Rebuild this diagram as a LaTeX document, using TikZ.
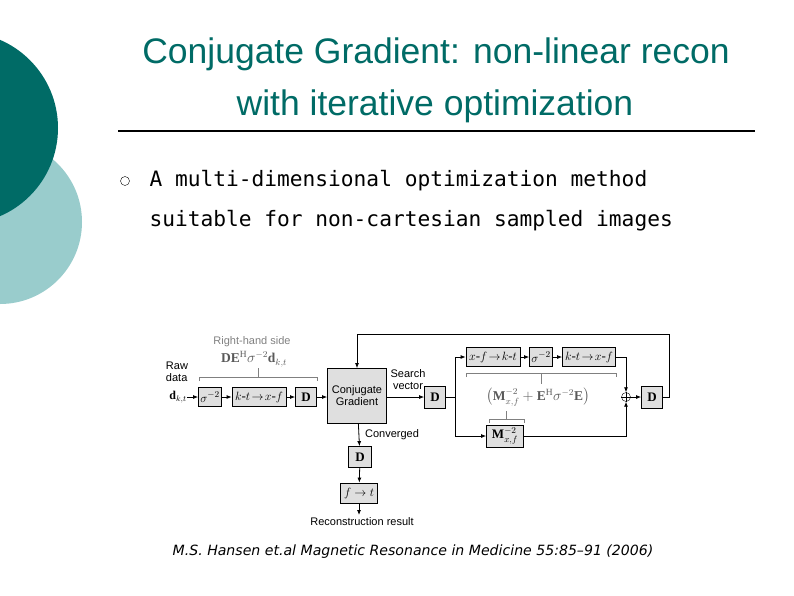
\documentclass[tikz,border=0pt]{standalone}
\usepackage{fontspec}
\setmainfont{Liberation Serif}
\setsansfont{Liberation Sans}
\setmonofont{DejaVu Sans Mono}
\newfontfamily\citef{DejaVu Sans}
\usepackage{amsmath}
\usetikzlibrary{arrows.meta}
\definecolor{teal1}{HTML}{006B66}
\definecolor{teal2}{HTML}{99CCCC}
\begin{document}
\begin{tikzpicture}[x=1pt,y=-1pt,
  blk/.style={draw,thick,fill=gray!25,inner sep=1pt,minimum height=19pt,font=\fontsize{13}{13}\selectfont},
  lab/.style={font=\sffamily\fontsize{11}{12}\selectfont,inner sep=0pt},
  ar/.style={-{Latex[length=5pt,width=4pt]},thick},
  ln/.style={thick},
  brk/.style={gray,thin}]
\useasboundingbox (0,0) rectangle (794,595);
\fill[teal2] (0,222) circle (82);
\fill[teal1] (-38,128) circle (96);
\node[font=\sffamily\fontsize{35.5}{36}\selectfont,text=teal1] (t1) at (436,54) {Conjugate Gradient: non-linear recon};
\node[font=\sffamily\fontsize{35.5}{36}\selectfont,text=teal1] (t2) at (435,106) {with iterative optimization};
\draw[line width=1.2pt] (118,131) -- (755,131);
\node[draw,circle,inner sep=0pt,minimum size=9pt,thin] (bul) at (125,181) {};
\node[font=\ttfamily\fontsize{21.2}{22}\selectfont,anchor=west] (b1) at (146,181) {A multi-dimensional optimization method};
\node[font=\ttfamily\fontsize{21.2}{22}\selectfont,anchor=west] (b2) at (146,221) {suitable for non-cartesian sampled images};
% diagram
\node[lab,align=left] (raw) at (177,372) {Raw\\data};
\node[inner sep=0pt,font=\fontsize{12}{12}\selectfont] (d) at (178,397) {$\mathbf{d}_{k,t}$};
\node[blk,minimum width=23pt] (s1) at (210,397) {$\sigma^{-2}$};
\node[blk,minimum width=54pt] (kt1) at (259,397) {$k\text{-}t\!\to\! x\text{-}f$};
\node[blk,minimum width=21pt] (D1) at (306,397) {$\mathbf{D}$};
\node[blk,minimum width=59pt,minimum height=55pt,lab,align=center] (cg) at (357,396) {Conjugate\\Gradient};
\node[lab,align=center] (sv) at (408,380) {Search\\vector};
\node[blk,minimum width=21pt,minimum height=22pt] (D2) at (435,397) {$\mathbf{D}$};
\node[blk,minimum width=54pt] (xf) at (493,357) {$x\text{-}f\!\to\! k\text{-}t$};
\node[blk,minimum width=23pt] (s2) at (541,357) {$\sigma^{-2}$};
\node[blk,minimum width=53pt] (kt2) at (589,357) {$k\text{-}t\!\to\! x\text{-}f$};
\node[blk,minimum width=37pt,minimum height=22pt] (M) at (505,436) {$\mathbf{M}_{x,f}^{-2}$};
\node[draw,circle,inner sep=0pt,minimum size=9pt] (plus) at (626,397) {};
\draw (plus.north)--(plus.south) (plus.west)--(plus.east);
\node[blk,minimum width=21pt,minimum height=22pt] (D3) at (652,397) {$\mathbf{D}$};
\node[text=gray!70!black,font=\fontsize{13.5}{13}\selectfont] (expr) at (538,397) {$\left(\mathbf{M}_{x,f}^{-2}+\mathbf{E}^{\mathrm{H}}\sigma^{-2}\mathbf{E}\right)$};
\node[lab] (conv) at (392,435) {Converged};
\node[blk,minimum width=23pt,minimum height=21pt] (D4) at (360,457) {$\mathbf{D}$};
\node[blk,minimum width=37pt,minimum height=20pt] (ft) at (359,493) {$f\to t$};
\coordinate (rr) at (359,515);
\node[lab] (rec) at (362,522) {Reconstruction result};
\node[lab,text=gray] (rhs) at (252,342) {Right-hand side};
\node[text=gray!70!black,font=\fontsize{13.5}{13}\selectfont,inner sep=0pt] (rhse) at (254,359) {$\mathbf{DE}^{\mathrm{H}}\sigma^{-2}\mathbf{d}_{k,t}$};
% brackets
\draw[brk] (199,381)--(199,377)--(317,377)--(317,381) (258,377)--(258,368);
\draw[brk] (466,377)--(466,373)--(616,373)--(616,377) (541,373)--(541,384);
\draw[brk] (489,423)--(489,419)--(524,419)--(524,423) (506,419)--(506,411);
% connectors
\draw[ar] (d) -- (s1);
\draw[ar] (s1) -- (kt1);
\draw[ar] (kt1) -- (D1);
\draw[ar] (D1) -- (cg.west|-D1);
\draw[ar] (cg.east|-D2) -- (D2);
\coordinate (br) at (455,397);
\draw[ln] (D2) -- (br);
\draw[ar] (br) |- (xf);
\draw[ar] (br) |- (M);
\draw[ar] (xf) -- (s2);
\draw[ar] (s2) -- (kt2);
\draw[ar] (kt2) -| (plus);
\draw[ar] (M) -| (plus);
\draw[ar] (plus) -- (D3);
\coordinate (fb) at (669,334);
\draw[ar] (D3.east) -| (fb) -| (cg.north);
\draw[ar] (cg) -- (D4);
\draw[ar] (D4) -- (ft);
\draw[ar] (ft) -- (rr);
\node[font=\citef\itshape\fontsize{14.1}{15}\selectfont] (cit) at (413,552) {M.S. Hansen et.al Magnetic Resonance in Medicine 55:85–91 (2006)};
\end{tikzpicture}
\end{document}
